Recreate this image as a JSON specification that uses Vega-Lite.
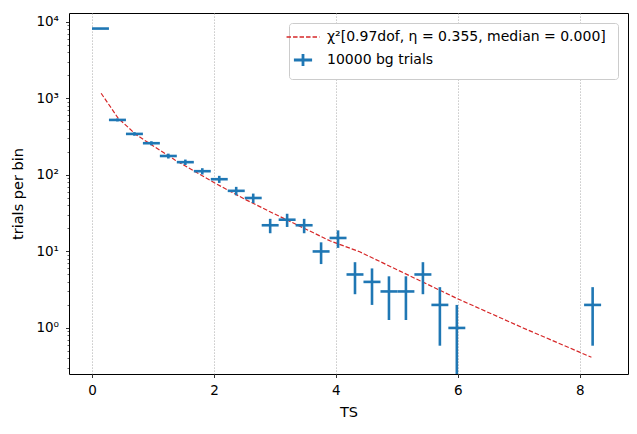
{
  "$schema": "https://vega.github.io/schema/vega-lite/v6.json",
  "width": 559,
  "height": 361,
  "autosize": "none",
  "padding": {"left": 69, "top": 13, "right": 9, "bottom": 60},
  "background": "white",
  "config": {
    "view": {"stroke": "black", "strokeWidth": 1},
    "font": "DejaVu Sans",
    "axis": {
      "domain": false,
      "tickColor": "black",
      "tickWidth": 0.8,
      "labelColor": "black",
      "labelFont": "DejaVu Sans",
      "labelFontSize": 13.5,
      "titleFont": "DejaVu Sans",
      "titleFontSize": 14.5,
      "titleFontWeight": "normal",
      "titleColor": "black",
      "gridColor": "#b0b0b0",
      "gridDash": [1.2, 1.8],
      "gridWidth": 0.9
    },
    "axisX": {"title": "TS", "grid": true, "tickSize": 3.5, "labelPadding": 6, "titlePadding": 8},
    "axisY": {
      "values": [0.3, 0.4, 0.5, 0.6, 0.7, 0.8, 0.9, 1, 2, 3, 4, 5, 6, 7, 8, 9, 10, 20, 30, 40, 50, 60, 70, 80, 90, 100, 200, 300, 400, 500, 600, 700, 800, 900, 1000, 2000, 3000, 4000, 5000, 6000, 7000, 8000, 9000, 10000],
      "labelExpr": "abs(log(datum.value)/LN10 - round(log(datum.value)/LN10)) < 0.000001 ? '10' + ['⁰','¹','²','³','⁴'][round(log(datum.value)/LN10)] : ''",
      "title": "trials per bin",
      "grid": true,
      "gridOpacity": {"condition": {"test": "abs(log(datum.value)/LN10 - round(log(datum.value)/LN10)) < 0.000001", "value": 1}, "value": 0},
      "tickSize": {"condition": {"test": "abs(log(datum.value)/LN10 - round(log(datum.value)/LN10)) < 0.000001", "value": 3.5}, "value": 2},
      "tickWidth": {"condition": {"test": "abs(log(datum.value)/LN10 - round(log(datum.value)/LN10)) < 0.000001", "value": 0.8}, "value": 0.6},
      "labelPadding": 7,
      "titlePadding": 10
    }
  },
  "datasets": {
    "bins": [
      {"ts": 0.139, "xlo": 0.0, "xhi": 0.278, "n": 8200, "lo": 8109, "hi": 8291},
      {"ts": 0.417, "xlo": 0.278, "xhi": 0.557, "n": 524, "lo": 501, "hi": 547},
      {"ts": 0.696, "xlo": 0.557, "xhi": 0.835, "n": 344, "lo": 325.5, "hi": 362.5},
      {"ts": 0.974, "xlo": 0.835, "xhi": 1.113, "n": 260, "lo": 244, "hi": 276},
      {"ts": 1.252, "xlo": 1.113, "xhi": 1.391, "n": 177, "lo": 164, "hi": 190},
      {"ts": 1.531, "xlo": 1.391, "xhi": 1.670, "n": 147, "lo": 135, "hi": 159},
      {"ts": 1.809, "xlo": 1.670, "xhi": 1.948, "n": 112, "lo": 101.4, "hi": 122.6},
      {"ts": 2.087, "xlo": 1.948, "xhi": 2.226, "n": 88, "lo": 78.6, "hi": 97.4},
      {"ts": 2.365, "xlo": 2.226, "xhi": 2.505, "n": 62, "lo": 54.1, "hi": 69.9},
      {"ts": 2.644, "xlo": 2.505, "xhi": 2.783, "n": 50, "lo": 42.9, "hi": 57.1},
      {"ts": 2.922, "xlo": 2.783, "xhi": 3.061, "n": 22, "lo": 17.3, "hi": 26.7},
      {"ts": 3.200, "xlo": 3.061, "xhi": 3.339, "n": 26, "lo": 20.9, "hi": 31.1},
      {"ts": 3.479, "xlo": 3.339, "xhi": 3.618, "n": 22, "lo": 17.3, "hi": 26.7},
      {"ts": 3.757, "xlo": 3.618, "xhi": 3.896, "n": 10, "lo": 6.84, "hi": 13.16},
      {"ts": 4.035, "xlo": 3.896, "xhi": 4.174, "n": 15, "lo": 11.13, "hi": 18.87},
      {"ts": 4.313, "xlo": 4.174, "xhi": 4.452, "n": 5, "lo": 2.76, "hi": 7.24},
      {"ts": 4.592, "xlo": 4.452, "xhi": 4.731, "n": 4, "lo": 2, "hi": 6},
      {"ts": 4.870, "xlo": 4.731, "xhi": 5.009, "n": 3, "lo": 1.27, "hi": 4.73},
      {"ts": 5.148, "xlo": 5.009, "xhi": 5.287, "n": 3, "lo": 1.27, "hi": 4.73},
      {"ts": 5.427, "xlo": 5.287, "xhi": 5.566, "n": 5, "lo": 2.76, "hi": 7.24},
      {"ts": 5.705, "xlo": 5.566, "xhi": 5.844, "n": 2, "lo": 0.586, "hi": 3.414},
      {"ts": 5.983, "xlo": 5.844, "xhi": 6.122, "n": 1, "lo": 0.001, "hi": 2},
      {"ts": 8.210, "xlo": 8.070, "xhi": 8.349, "n": 2, "lo": 0.586, "hi": 3.414}
    ],
    "chi2": [
      {"ts": 0.15, "n": 1170},
      {"ts": 0.43, "n": 551},
      {"ts": 0.73, "n": 333},
      {"ts": 1.36, "n": 157},
      {"ts": 2.02, "n": 78},
      {"ts": 2.51, "n": 48},
      {"ts": 2.97, "n": 31.6},
      {"ts": 3.90, "n": 13.8},
      {"ts": 4.39, "n": 9.9},
      {"ts": 5.98, "n": 2.44},
      {"ts": 7.07, "n": 1.0},
      {"ts": 8.19, "n": 0.414}
    ]
  },
  "layer": [
    {
      "data": {"name": "chi2"},
      "mark": {"type": "line", "strokeDash": [4.5, 2], "strokeWidth": 1.2, "clip": true},
      "encoding": {
        "x": {
          "field": "ts", "type": "quantitative", "title": "TS",
          "scale": {"domain": [-0.377, 8.79], "nice": false, "zero": false},
          "axis": {"values": [0, 2, 4, 6, 8], "format": "d"}
        },
        "y": {
          "field": "n", "type": "quantitative", "title": "trials per bin",
          "scale": {"type": "log", "domain": [0.25, 13100], "nice": false}
        },
        "color": {
          "datum": "χ²[0.97dof,  η = 0.355, median = 0.000]",
          "type": "nominal",
          "scale": {
            "domain": ["χ²[0.97dof,  η = 0.355, median = 0.000]", "10000 bg trials"],
            "range": ["#d62728", "#1f77b4"]
          },
          "legend": {
            "title": null,
            "orient": "top-right",
            "offset": 10,
            "fillColor": "white",
            "strokeColor": "#cccccc",
            "cornerRadius": 3,
            "padding": 7,
            "rowPadding": 4,
            "labelFont": "DejaVu Sans",
            "labelFontSize": 14,
            "labelLimit": 500,
            "labelColor": "black",
            "labelOffset": 17,
            "symbolSize": 300,
            "encode": {
              "symbols": {
                "update": {
                  "shape": {"signal": "datum.value == '10000 bg trials' ? 'M-1.05,0H1.05M0,-0.7V0.7' : 'M-1.9,0H1.9'"},
                  "strokeWidth": {"signal": "datum.value == '10000 bg trials' ? 2.8 : 1.3"},
                  "strokeDash": {"signal": "datum.value == '10000 bg trials' ? [1, 0] : [4.5, 2]"},
                  "fill": {"value": "transparent"}
                }
              }
            }
          }
        }
      }
    },
    {
      "data": {"name": "bins"},
      "mark": {"type": "rule", "strokeWidth": 2.6, "clip": true},
      "encoding": {
        "x": {"field": "xlo", "type": "quantitative", "title": "TS", "axis": {"values": [0, 2, 4, 6, 8], "format": "d"}},
        "x2": {"field": "xhi"},
        "y": {"field": "n", "type": "quantitative", "title": "trials per bin"},
        "color": {"datum": "10000 bg trials", "type": "nominal"}
      }
    },
    {
      "data": {"name": "bins"},
      "mark": {"type": "rule", "strokeWidth": 2.6, "clip": true},
      "encoding": {
        "x": {"field": "ts", "type": "quantitative", "title": "TS", "axis": {"values": [0, 2, 4, 6, 8], "format": "d"}},
        "y": {"field": "lo", "type": "quantitative", "title": "trials per bin"},
        "y2": {"field": "hi"},
        "color": {"datum": "10000 bg trials", "type": "nominal"}
      }
    }
  ]
}
